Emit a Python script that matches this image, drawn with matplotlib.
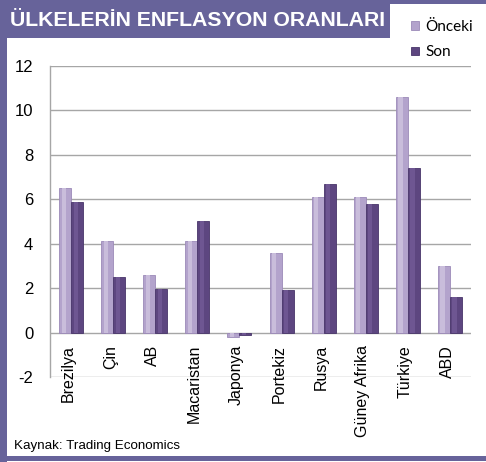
import matplotlib
matplotlib.use("Agg")
import matplotlib.pyplot as plt
from matplotlib.patches import Rectangle
import numpy as np

categories = ["Brezilya", "Çin", "AB", "Macaristan", "Japonya", "Portekiz",
              "Rusya", "Güney Afrika", "Türkiye", "ABD"]
onceki = [6.5, 4.1, 2.6, 4.1, -0.2, 3.6, 6.1, 6.1, 10.6, 3.0]
son = [5.9, 2.5, 1.95, 5.0, -0.1, 1.9, 6.7, 5.8, 7.4, 1.6]
yticks = [-2, 0, 2, 4, 6, 8, 10, 12]

title = "ÜLKELERİN ENFLASYON ORANLARI"
source = "Kaynak: Trading Economics"

W, H = 486, 462
FRAME = "#67639a"
C_ON = "#b3a3cc"
C_SON = "#5d4680"
GRID = "#a6a6a6"

plt.rcParams['font.family'] = ['Liberation Sans', 'DejaVu Sans']

fig = plt.figure(figsize=(W / 100, H / 100), dpi=100)
fig.patch.set_facecolor("white")

def fx(px):
    return px / W

def fy(py):
    return 1 - py / H

# frame
fig.patches.append(Rectangle((0, fy(4)), 1, 4 / H, transform=fig.transFigure,
                             facecolor=FRAME, edgecolor="none", zorder=0))
fig.patches.append(Rectangle((0, fy(38)), fx(390), 38 / H, transform=fig.transFigure,
                             facecolor=FRAME, edgecolor="none", zorder=0))
fig.patches.append(Rectangle((0, 0), fx(7), 1, transform=fig.transFigure,
                             facecolor=FRAME, edgecolor="none", zorder=0))
fig.patches.append(Rectangle((0, fy(461)), 1, 5 / H, transform=fig.transFigure,
                             facecolor=FRAME, edgecolor="none", zorder=0))

fig.text(fx(10), fy(21), title, color="white", fontsize=15.3, fontweight="bold",
         ha="left", va="center")
fig.text(fx(14), fy(446), source, color="black", fontsize=9.6, ha="left", va="center")

ax = fig.add_axes([fx(50), fy(377), fx(471) - fx(50), (377 - 66) / H])
ax.set_facecolor("none")
x = np.arange(len(categories))
w = 0.285
b1 = ax.bar(x - w / 2, onceki, w, color=C_ON, edgecolor="#9c8ab8", linewidth=0.6,
            zorder=3, label="Önceki")
b2 = ax.bar(x + w / 2, son, w, color=C_SON, edgecolor="#48356a", linewidth=0.6,
            zorder=3, label="Son")
# subtle highlight stripes for a 3D look
ax.bar(x - w / 2 - w * 0.12, onceki, w * 0.35, color="#c9bddb", linewidth=0, zorder=4)
ax.bar(x + w / 2 - w * 0.12, son, w * 0.35, color="#6e5692", linewidth=0, zorder=4)

ax.set_xlim(-0.5, len(categories) - 0.5)
ax.set_ylim(-2, 12)
ax.set_yticks(yticks)
ax.set_yticklabels([str(t) for t in yticks], fontsize=12)
ax.tick_params(axis="y", length=0, pad=12)
ax.set_xticks([])
ax.grid(axis="y", color=GRID, linewidth=1, zorder=1)
for s in ["top", "right", "bottom"]:
    ax.spines[s].set_visible(False)
ax.spines["left"].set_color(GRID)
ax.spines["left"].set_linewidth(1)

for i, c in enumerate(categories):
    ax.annotate(c, xy=(i, 0), xytext=(-2, -9), textcoords="offset points",
                rotation=90, ha="center", va="top", fontsize=11.5)

leg = fig.legend(handles=[b1, b2], labels=["Önceki", "Son"], loc="upper left",
                 bbox_to_anchor=(fx(411), fy(20)), frameon=False,
                 prop={"family": "Lato", "size": 11}, handlelength=0.5,
                 handleheight=0.5, handletextpad=0.45, labelspacing=0.75,
                 borderpad=0, borderaxespad=0)

fig.savefig("out.png", dpi=100)
